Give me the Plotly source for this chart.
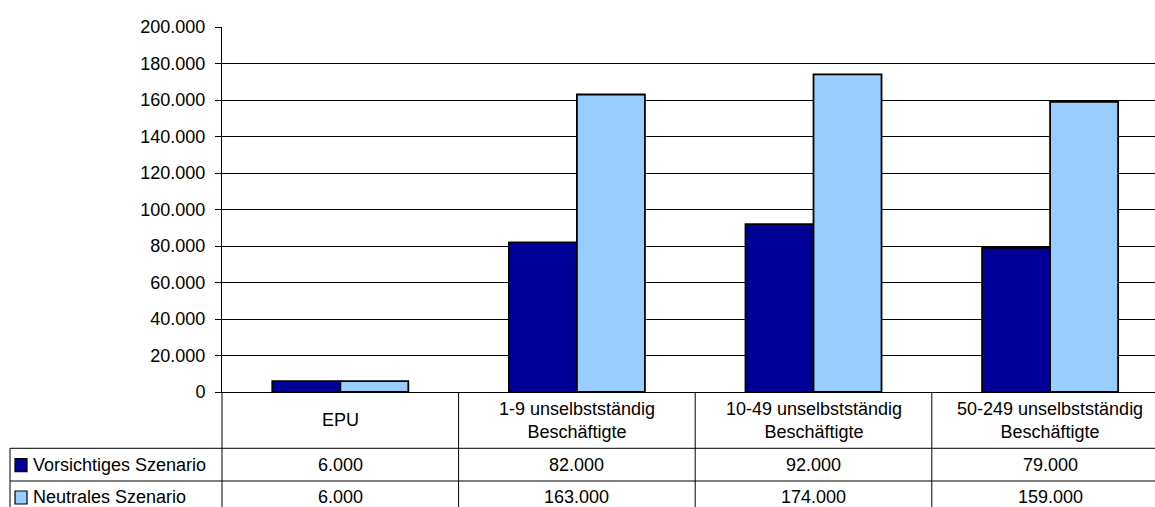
import plotly.graph_objects as go

# Unternehmensgrößenklassen und Werte je Szenario
categories = [
    "EPU",
    "1-9 unselbstständig<br>Beschäftigte",
    "10-49 unselbstständig<br>Beschäftigte",
    "50-249 unselbstständig<br>Beschäftigte",
]
series_names = ["Vorsichtiges Szenario", "Neutrales Szenario"]
vorsichtig = [6000, 82000, 92000, 79000]
neutral = [6000, 163000, 174000, 159000]
y_ticks = [0, 20000, 40000, 60000, 80000, 100000, 120000, 140000, 160000, 180000, 200000]

colors = ["#000099", "#99CCFF"]
FONT = "Liberation Sans, Arial, sans-serif"
FS = 18

W, H = 1155, 507
L, R, T, B = 222, 0, 27, 115
plot_bottom = H - B
plot_h = H - T - B
plot_w = W - L - R


def xp(px):
    return (px - L) / plot_w


def yp(py):
    return (plot_bottom - py) / plot_h


def fmt(v):
    return f"{v:,}".replace(",", ".")


x_idx = list(range(len(categories)))

fig = go.Figure()
for name, vals, col in zip(series_names, [vorsichtig, neutral], colors):
    fig.add_trace(go.Bar(
        x=x_idx, y=vals, name=name,
        marker=dict(color=col, line=dict(color="#000000", width=1.8)),
        showlegend=False, hoverinfo="skip",
    ))

col_w = 236.6
x_end = -0.5 + plot_w / col_w

shapes = []
annotations = []
line = dict(color="#000000", width=1)

# Datentabelle unter dem Diagramm
row_lines = [448.3, 481.0]
row_bottom = 513.0
for ry in row_lines:
    shapes.append(dict(type="line", xref="paper", yref="paper",
                       x0=xp(10), x1=xp(W + 5), y0=yp(ry), y1=yp(ry), line=line))
shapes.append(dict(type="line", xref="paper", yref="paper",
                   x0=xp(10), x1=xp(10), y0=yp(row_lines[0]), y1=yp(row_bottom), line=line))
shapes.append(dict(type="line", xref="paper", yref="paper",
                   x0=0, x1=0, y0=0, y1=yp(row_bottom), line=line))
for b in [0.5, 1.5, 2.5]:
    shapes.append(dict(type="line", xref="x", yref="paper",
                       x0=b, x1=b, y0=0, y1=yp(row_bottom), line=line))

cat_center = (plot_bottom + row_lines[0]) / 2
row_centers = [(row_lines[0] + row_lines[1]) / 2, (row_lines[1] + row_bottom) / 2]

for i, c in enumerate(categories):
    annotations.append(dict(x=i, y=yp(cat_center), xref="x", yref="paper",
                            text=c, showarrow=False, xanchor="center", yanchor="middle",
                            font=dict(family=FONT, size=FS, color="#000000")))

for r, (name, vals, col) in enumerate(zip(series_names, [vorsichtig, neutral], colors)):
    cy = row_centers[r]
    for i, v in enumerate(vals):
        annotations.append(dict(x=i, y=yp(cy), xref="x", yref="paper",
                                text=fmt(v), showarrow=False, xanchor="center", yanchor="middle",
                                font=dict(family=FONT, size=FS, color="#000000")))
    # Legendensymbol und Beschriftung
    shapes.append(dict(type="rect", xref="paper", yref="paper",
                       x0=xp(15), x1=xp(27), y0=yp(cy - 6), y1=yp(cy + 7),
                       fillcolor=col, line=dict(color="#000000", width=1.2)))
    annotations.append(dict(x=xp(31), y=yp(cy), xref="paper", yref="paper",
                            text=name, showarrow=False, xanchor="left", yanchor="middle",
                            font=dict(family=FONT, size=FS, color="#000000")))

fig.update_layout(
    width=W, height=H,
    margin=dict(l=L, r=R, t=T, b=B, pad=0),
    paper_bgcolor="#ffffff", plot_bgcolor="#ffffff",
    barmode="group", bargap=0.425, bargroupgap=0,
    separators=",.",
    font=dict(family=FONT, size=FS, color="#000000"),
    shapes=shapes, annotations=annotations,
    xaxis=dict(range=[-0.5, x_end], showticklabels=False, ticks="",
               showgrid=False, zeroline=False,
               showline=True, linecolor="#000000", linewidth=1),
    yaxis=dict(range=[0, 200000], tickvals=y_ticks, tickformat=",d",
               showgrid=True, gridcolor="#000000", gridwidth=1,
               zeroline=False, showline=True, linecolor="#000000", linewidth=1,
               ticks="outside", ticklen=6, tickcolor="#000000",
               ticklabelstandoff=6,
               tickfont=dict(family=FONT, size=FS, color="#000000")),
)

fig.write_html("out.html")
